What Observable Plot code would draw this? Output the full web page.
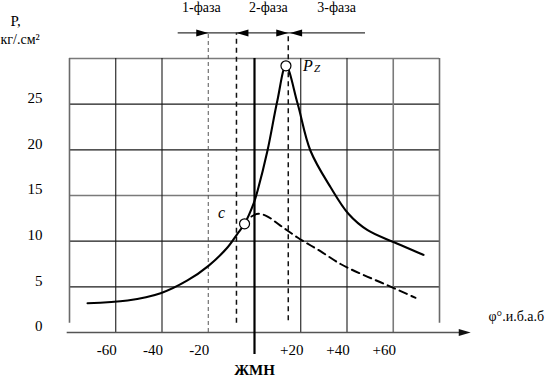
<!DOCTYPE html>
<html>
<head>
<meta charset="utf-8">
<script src="https://cdn.jsdelivr.net/npm/d3@7"></script>
<script src="https://cdn.jsdelivr.net/npm/@observablehq/plot@0.6"></script>
<style>
  html, body { margin: 0; padding: 0; background: #fff; }
  #chart svg { display: block; }
</style>
</head>
<body>
<div id="chart"></div>
<script>
// ---- data ----
const xTicks = [-60, -40, -20, 20, 40, 60];
const xTickLabels = ["-60", "-40", "-20", "+20", "+40", "+60"];
const yTicks = [0, 5, 10, 15, 20, 25];
const gridXBlack = [-60, -40, 20, 40];
const gridXGray = [60];
const gridXEdges = [-80, 80];
const gridYBlack = [5, 10, 20, 25];
const gridYGray = [15, 30];

// solid curve: pressure with combustion
const pressureX = [-72.2, -54.9, -40.6, -29.0, -19.9, -11.7, -7.4, -4.3, -0.4, 1.3, 5.6, 9.9, 13.6, 18.6, 24.2, 32.9, 40.6, 48.9, 60.1, 73.1];
const pressureY = [3.2, 3.5, 4.3, 5.7, 7.3, 9.3, 10.8, 11.9, 14.1, 15.5, 19.9, 25.4, 29.2, 25.1, 19.9, 15.9, 13.0, 11.2, 9.9, 8.5];

// dashed curve: without combustion
const dashedX = [-1.3, 1.7, 4.8, 11.2, 18.6, 28.5, 37.2, 47.1, 54.5, 69.6];
const dashedY = [12.7, 13.0, 12.8, 11.7, 10.4, 8.9, 7.5, 6.3, 5.5, 3.8];

const phaseBounds = [-20, -7.8, 14.6];
const phaseBoundEnds = [0, 1.0, 1.3];
const phaseNames = ["1-фаза", "2-фаза", "3-фаза"];
const phaseLabelX = [-23, 6, 35.5];
const phaseLineFrom = -33;
const phaseLineTo = 48;
const phaseLineY = 32.8;

const pointNames = ["c", "P"];
const pointX = [-4.3, 13.6];
const pointY = [11.9, 29.2];

const axisEnd = 93.5;

// ---- build tables ----
const pressure = pressureX.map((x, i) => ({x, y: pressureY[i]}));
const dashed = dashedX.map((x, i) => ({x, y: dashedY[i]}));
const xt = xTicks.map((x, i) => ({x, label: xTickLabels[i]}));
const phases = phaseNames.map((name, i) => ({name, x: phaseLabelX[i]}));
const bounds = phaseBounds.map((x, i) => ({x, y1: phaseBoundEnds[i]}));
const points = pointNames.map((n, i) => ({n, x: pointX[i], y: pointY[i]}));
const heads = [
  {x: phaseBounds[0], rot: 0},
  {x: phaseBounds[1], rot: 180},
  {x: phaseBounds[2], rot: 0},
  {x: phaseBounds[2] + 0.8, rot: 180}
];

const arrowHead = {
  draw(ctx) {
    ctx.moveTo(0, 0);
    ctx.lineTo(-12, -3.5);
    ctx.lineTo(-12, 3.5);
    ctx.closePath();
  }
};

const serif = "Liberation Serif";
const T = (data, opts) => Plot.text(data, {fontFamily: serif, fill: "#000", ...opts});

const chart = Plot.plot({
  width: 548,
  height: 377,
  marginLeft: 69,
  marginRight: 109,
  marginTop: 58,
  marginBottom: 45,
  x: {domain: [-80, 80], axis: null},
  y: {domain: [0, 30], axis: null},
  style: {fontFamily: serif, fontSize: "14px", background: "#fff", color: "#000", overflow: "visible"},
  marks: [
    // grid
    Plot.ruleY(gridYBlack, {x1: -80, x2: 80, stroke: "#1a1a1a", strokeWidth: 1.1}),
    Plot.ruleY(gridYGray, {x1: -80, x2: 80, stroke: "#7a7a7a", strokeWidth: 1.6}),
    Plot.ruleX(gridXBlack, {y1: 0, y2: 30, stroke: "#1a1a1a", strokeWidth: 1.1}),
    Plot.ruleX(gridXGray, {y1: 0, y2: 30, stroke: "#7a7a7a", strokeWidth: 1.6}),
    Plot.ruleX(gridXEdges, {y1: 1, y2: 30, stroke: "#6a6a6a", strokeWidth: 1.6}),
    // x axis with arrow
    Plot.ruleY([0], {x1: -81, x2: axisEnd - 4, stroke: "#555", strokeWidth: 1.5}),
    Plot.dot([axisEnd], {x: d => d, y: 0, symbol: arrowHead, fill: "#111", stroke: "none"}),
    // ЖМН line
    Plot.ruleX([0], {y1: -2.4, y2: 30, stroke: "#000", strokeWidth: 2.2}),
    // phase boundaries
    Plot.ruleX(bounds.slice(0, 1), {x: "x", y1: "y1", y2: phaseLineY, stroke: "#555", strokeWidth: 1, strokeDasharray: "4,3"}),
    Plot.ruleX(bounds.slice(1), {x: "x", y1: "y1", y2: phaseLineY, stroke: "#111", strokeWidth: 1.5, strokeDasharray: "5,4"}),
    // phase line and heads
    Plot.ruleY([phaseLineY], {x1: phaseLineFrom, x2: phaseLineTo, stroke: "#333", strokeWidth: 1.3}),
    Plot.dot(heads, {x: "x", y: phaseLineY, rotate: "rot", symbol: arrowHead, fill: "#000", stroke: "none"}),
    T(phases, {x: "x", y: 30, dy: -51, text: "name", fontSize: 14}),
    // curves
    Plot.line(dashed, {x: "x", y: "y", curve: "monotone-x", stroke: "#000", strokeWidth: 2, strokeDasharray: "8,5"}),
    Plot.line(pressure, {x: "x", y: "y", curve: "catmull-rom", stroke: "#000", strokeWidth: 2.1}),
    Plot.dot(points, {x: "x", y: "y", r: 5, fill: "#fff", stroke: "#000", strokeWidth: 1.2}),
    // point labels
    T([points[0]], {x: "x", y: "y", dx: -23, dy: -11, text: "n", fontStyle: "italic", fontSize: 16}),
    T([points[1]], {x: "x", y: "y", dx: 22, dy: 0, text: "n", fontStyle: "italic", fontSize: 16}),
    T([points[1]], {x: "x", y: "y", dx: 31, dy: 3, text: () => "Z", fontStyle: "italic", fontSize: 11}),
    // tick labels
    T(xt, {x: "x", y: 0, dx: -9, dy: 18, text: "label", fontSize: 15}),
    T(yTicks, {x: -80, y: d => d, dx: -27, dy: -6, text: d => String(d), textAnchor: "end", fontSize: 15}),
    // axis titles
    T(["ЖМН"], {x: 0, y: 0, dy: 38, text: d => d, fontWeight: "bold", fontSize: 15}),
    T(["φ°.и.б.а.б"], {x: 80, y: 0, dx: 49, dy: -16, text: d => d, textAnchor: "start", fontSize: 14}),
    T(["Р,"], {frameAnchor: "top-left", dx: -59, dy: -37, text: d => d, textAnchor: "start", lineAnchor: "middle", fontSize: 15}),
    T(["кг/.см²"], {frameAnchor: "top-left", dx: -69, dy: -19, text: d => d, textAnchor: "start", lineAnchor: "middle", fontSize: 14})
  ]
});

document.getElementById("chart").appendChild(chart);
</script>
</body>
</html>
